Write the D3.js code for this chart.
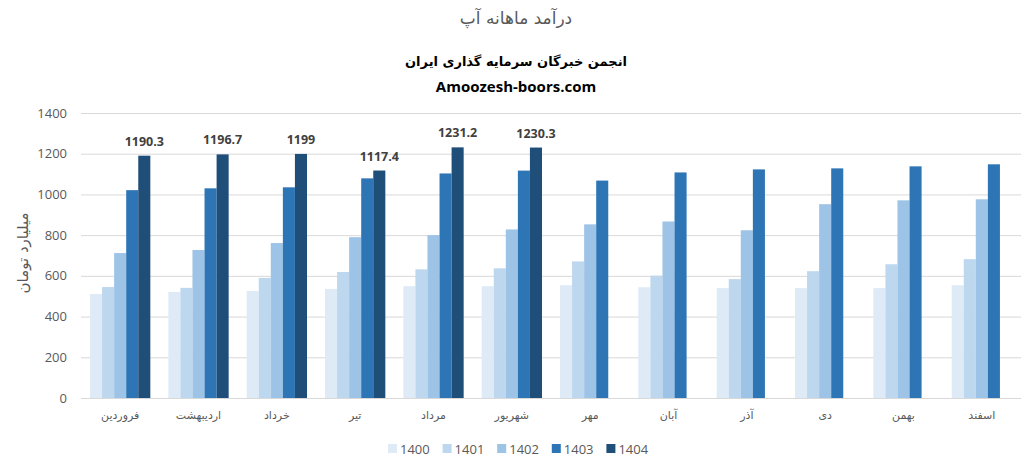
<!DOCTYPE html>
<html>
<head>
<meta charset="utf-8">
<script src="https://cdn.jsdelivr.net/npm/d3@7"></script>
<style>
  body { margin: 0; background: #fff; }
  svg { display: block; }
</style>
</head>
<body>
<svg id="chart" width="1032" height="472"></svg>
<script>
const months = ["فروردین", "اردیبهشت", "خرداد", "تیر", "مرداد", "شهریور", "مهر", "آبان", "آذر", "دی", "بهمن", "اسفند"]
const years = ["1400", "1401", "1402", "1403", "1404"]
const colors = ["#DEEBF7", "#BDD7EE", "#9DC3E6", "#2E75B6", "#1F4E79"]

const v1400 = [511, 521, 526, 536, 549, 549, 554, 544, 540, 540, 540, 554]
const v1401 = [545, 541, 590, 619, 632, 637, 671, 601, 584, 623, 657, 682]
const v1402 = [712, 727, 761, 790, 800, 828, 853, 867, 824, 952, 971, 976]
const v1403 = [1021, 1030, 1035, 1079, 1103, 1117, 1068, 1108, 1123, 1128, 1138, 1148]
const v1404 = [1190.3, 1196.7, 1199, 1117.4, 1231.2, 1230.3, null, null, null, null, null, null]
const yTicks = [0, 200, 400, 600, 800, 1000, 1200, 1400]

const series = [v1400, v1401, v1402, v1403, v1404]

const svg = d3.select('#chart')
const margin = {left: 81, right: 11, top: 113, bottom: 74}
const W = 1032, H = 472

const x = d3.scaleBand().domain(months).range([margin.left, W - margin.right]).paddingInner(0.23).paddingOuter(0.115)
const xs = d3.scaleBand().domain(years).range([0, x.bandwidth()])
const y = d3.scaleLinear().domain([0, 1400]).range([H - margin.bottom, margin.top])

// grid
svg.append('g').selectAll('line').data(yTicks).join('line')
    .attr('x1', margin.left).attr('x2', W - margin.right)
    .attr('y1', d => y(d) + 0.5).attr('y2', d => y(d) + 0.5)
    .attr('stroke', '#d9d9d9').attr('stroke-width', 1)

// y tick labels
svg.append('g').selectAll('text').data(yTicks).join('text')
    .attr('x', 67).attr('y', d => y(d) + 4.5)
    .attr('text-anchor', 'end')
    .attr('font-family', 'Open Sans, sans-serif').attr('font-size', 13)
    .attr('fill', '#595959')
    .text(d => d)

// bars
series.forEach((vals, i) => {
    svg.append('g').selectAll('rect').data(vals.map((v, j) => ({m: months[j], v})).filter(d => d.v != null)).join('rect')
        .attr('x', d => x(d.m) + xs(years[i]))
        .attr('y', d => y(d.v))
        .attr('width', xs.bandwidth())
        .attr('height', d => y(0) - y(d.v))
        .attr('fill', colors[i])
})

// data labels on 1404
svg.append('g').selectAll('text').data(v1404.map((v, j) => ({m: months[j], v})).filter(d => d.v != null)).join('text')
    .attr('x', d => x(d.m) + xs('1404') + xs.bandwidth() / 2)
    .attr('y', d => y(d.v) - 10)
    .attr('text-anchor', 'middle')
    .attr('font-family', 'Open Sans, sans-serif').attr('font-size', 12.5).attr('font-weight', 'bold')
    .attr('fill', '#404040')
    .text(d => d.v)

// x labels
svg.append('g').selectAll('text').data(months).join('text')
    .attr('x', d => x(d) + x.bandwidth() / 2)
    .attr('y', 419)
    .attr('text-anchor', 'middle')
    .attr('font-family', 'DejaVu Sans, sans-serif').attr('font-size', 11)
    .attr('fill', '#595959')
    .text(d => d)

// y axis title
svg.append('text')
    .attr('transform', 'translate(28,253) rotate(-90)')
    .attr('text-anchor', 'middle')
    .attr('font-family', 'DejaVu Sans, sans-serif').attr('font-size', 15)
    .attr('fill', '#595959')
    .text('میلیارد تومان')

// titles
svg.append('text').attr('x', 516).attr('y', 24).attr('text-anchor', 'middle')
    .attr('font-family', 'DejaVu Sans, sans-serif').attr('font-size', 17)
    .attr('fill', '#595959').text('درآمد ماهانه آپ')
svg.append('text').attr('x', 516).attr('y', 66).attr('text-anchor', 'middle')
    .attr('font-family', 'DejaVu Sans, sans-serif').attr('font-size', 13).attr('font-weight', 'bold')
    .attr('fill', '#000').text('انجمن خبرگان سرمایه گذاری ایران')
svg.append('text').attr('x', 516).attr('y', 92).attr('text-anchor', 'middle')
    .attr('font-family', 'Open Sans, sans-serif').attr('font-size', 15).attr('font-weight', 'bold')
    .attr('fill', '#000').text('Amoozesh-boors.com')

// legend
const lg = svg.append('g').selectAll('g').data(years).join('g')
    .attr('transform', (d, i) => `translate(${388 + i * 54.6},444)`)
lg.append('rect').attr('width', 9).attr('height', 9).attr('fill', (d, i) => colors[i])
lg.append('text').attr('x', 12).attr('y', 9.5)
    .attr('font-family', 'Open Sans, sans-serif').attr('font-size', 13)
    .attr('fill', '#595959').text(d => d)
</script>
</body>
</html>
